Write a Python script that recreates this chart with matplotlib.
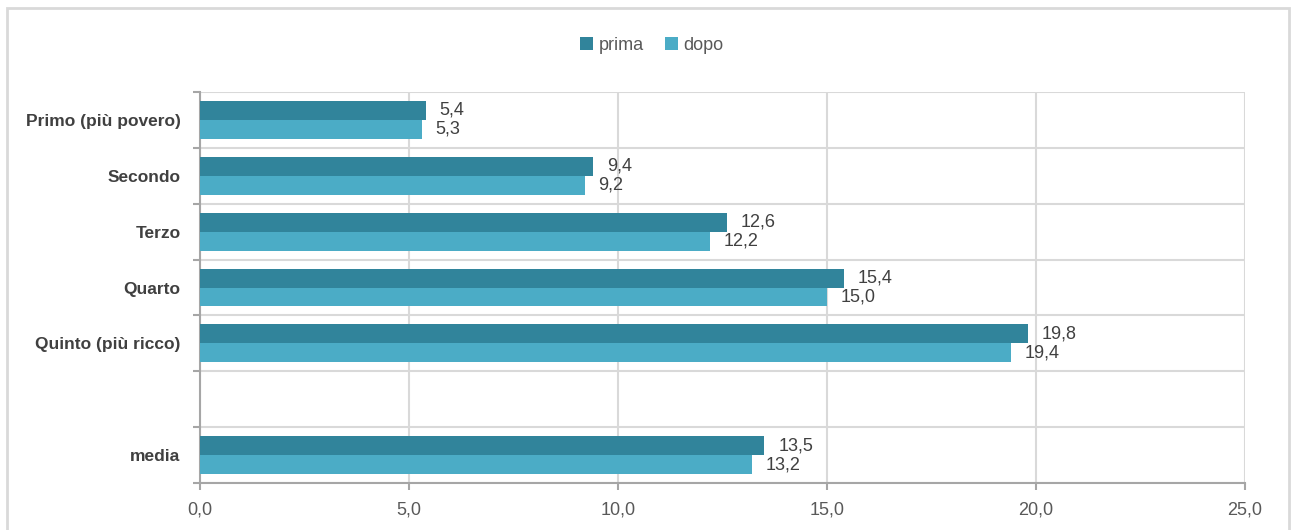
import matplotlib.pyplot as plt
from matplotlib.patches import Rectangle
from matplotlib.ticker import FixedLocator, FuncFormatter

plt.rcParams['font.family'] = ['Liberation Sans Narrow', 'Liberation Sans', 'DejaVu Sans']

categories = ['Primo (più povero)', 'Secondo', 'Terzo', 'Quarto', 'Quinto (più ricco)', '', 'media']
prima = [5.4, 9.4, 12.6, 15.4, 19.8, None, 13.5]
dopo = [5.3, 9.2, 12.2, 15.0, 19.4, None, 13.2]
xticks = [0, 5, 10, 15, 20, 25]

c_prima = '#31849B'
c_dopo = '#4BACC6'
grid_c = '#D9D9D9'
axis_c = '#A6A6A6'
text_c = '#595959'

fig = plt.figure(figsize=(12.91, 5.30), dpi=100)
ax = fig.add_axes([200 / 1291, 1 - 483 / 530, 1045 / 1291, 391 / 530])

# light frame around the chart area
fig.patches.append(Rectangle((7 / 1291, -0.05), 1282 / 1291, 1.05 - 8 / 530,
                             transform=fig.transFigure, fill=False,
                             edgecolor='#D9D9D9', linewidth=2))

h = 0.34
pos = [i for i, c in enumerate(categories) if c]
vp = [prima[i] for i in pos]
vd = [dopo[i] for i in pos]
bp = ax.barh([p - h / 2 for p in pos], vp, height=h, color=c_prima, label='prima', zorder=3)
bd = ax.barh([p + h / 2 for p in pos], vd, height=h, color=c_dopo, label='dopo', zorder=3)

fmt = lambda v: f'{v:.1f}'.replace('.', ',')
for bars, vals in ((bp, vp), (bd, vd)):
    for b, v in zip(bars, vals):
        ax.annotate(fmt(v), (v, b.get_y() + b.get_height() / 2), xytext=(10, 0),
                    textcoords='offset points', va='center', ha='left',
                    fontsize=13, color='#404040')

ax.set_xlim(0, 25)
ax.set_ylim(len(categories) - 0.5, -0.5)
ax.set_xticks(xticks)
ax.xaxis.set_major_formatter(FuncFormatter(lambda v, p: fmt(v)))
ax.set_yticks(range(len(categories)))
ax.set_yticklabels(categories, fontweight='bold', fontsize=12.5, color='#404040')
ax.yaxis.set_minor_locator(FixedLocator([i - 0.5 for i in range(len(categories) + 1)]))
ax.tick_params(axis='y', which='major', length=0, pad=14)
ax.tick_params(axis='y', which='minor', length=5, width=1.5, color=axis_c)
ax.tick_params(axis='x', length=5, width=1.5, color=axis_c, labelsize=13,
               labelcolor=text_c, pad=8)

ax.grid(axis='x', which='major', color=grid_c, linewidth=1.5, zorder=0)
ax.grid(axis='y', which='minor', color=grid_c, linewidth=1.5, zorder=0)
for s in ('top', 'right'):
    ax.spines[s].set_visible(False)
for s in ('left', 'bottom'):
    ax.spines[s].set_color(axis_c)
    ax.spines[s].set_linewidth(1.5)

fig.legend(handles=[bp, bd], loc='center', bbox_to_anchor=(652 / 1291, 1 - 45 / 530),
           ncol=2, frameon=False, fontsize=13, handlelength=0.7, handleheight=0.7,
           handletextpad=0.3, columnspacing=1.2, labelcolor=text_c)

fig.savefig('out.png', dpi=100)
